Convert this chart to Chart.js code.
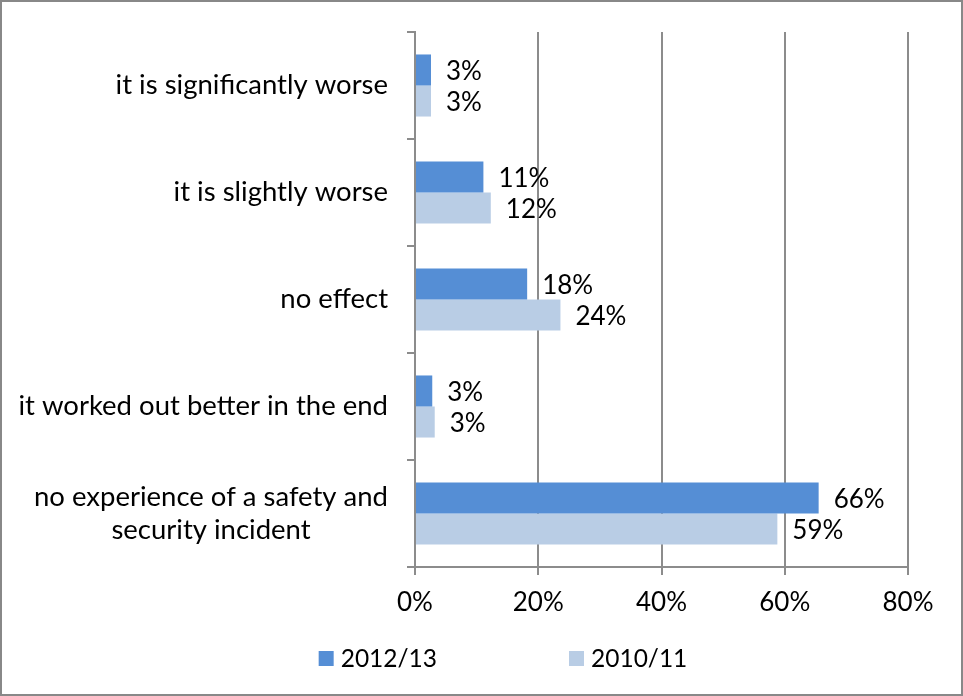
<!DOCTYPE html>
<html>
<head>
<meta charset="utf-8">
<script src="https://cdn.jsdelivr.net/npm/chart.js@4.4.1/dist/chart.umd.min.js"></script>
<style>
  html, body { margin: 0; padding: 0; background: #fff; }
  #wrap { width: 963px; height: 696px; }
</style>
</head>
<body>
<div id="wrap"><canvas id="impact-chart" width="963" height="696"></canvas></div>
<script>
// survey answers, top to bottom
const categories = [
    'it is significantly worse',
    'it is slightly worse',
    'no effect',
    'it worked out better in the end',
    ['no experience of a safety and', 'security incident']
];
const seriesNames = ['2012/13', '2010/11'];
const values2012 = [2.6, 11.1, 18.2, 2.8, 65.5];
const values2010 = [2.6, 12.3, 23.6, 3.2, 58.8];
const xTicks = [0, 20, 40, 60, 80];

const FONT = 'Lato, Carlito, Calibri, sans-serif';
const FONT_SIZE = 26;
const LABEL_SIZE = 27.5;
const LEGEND_SIZE = 24.5;
const AXIS_GREY = '#8c8c8c';

// white background + thin frame round the whole chart
const frame = {
    id: 'frame',
    beforeDraw(chart) {
        const ctx = chart.ctx;
        ctx.save();
        ctx.fillStyle = '#fff';
        ctx.fillRect(0, 0, chart.width, chart.height);
        ctx.strokeStyle = '#888';
        ctx.lineWidth = 2;
        ctx.strokeRect(1, 1, chart.width - 2, chart.height - 2);
        ctx.restore();
    }
};

// category names: block right-aligned, lines centred within the block
const categoryLabels = {
    id: 'categoryLabels',
    afterDraw(chart) {
        const { ctx } = chart;
        const y = chart.scales.y;
        ctx.save();
        ctx.font = `${LABEL_SIZE}px ${FONT}`;
        ctx.fillStyle = '#000';
        ctx.textAlign = 'center';
        ctx.textBaseline = 'middle';
        chart.data.labels.forEach((label, i) => {
            const lines = Array.isArray(label) ? label : [label];
            const widest = Math.max(...lines.map(l => ctx.measureText(l).width));
            const cx = 388 - widest / 2;
            const cy = y.getPixelForValue(i);
            lines.forEach((line, j) => {
                ctx.fillText(line, cx, cy + (j - (lines.length - 1) / 2) * 33);
            });
        });
        ctx.restore();
    }
};

// percentage next to the end of each bar
const valueLabels = {
    id: 'valueLabels',
    afterDatasetsDraw(chart) {
        const { ctx } = chart;
        ctx.save();
        ctx.font = `${FONT_SIZE}px ${FONT}`;
        ctx.fillStyle = '#000';
        ctx.textAlign = 'left';
        ctx.textBaseline = 'middle';
        chart.data.datasets.forEach((ds, di) => {
            chart.getDatasetMeta(di).data.forEach((bar, i) => {
                ctx.fillText(Math.round(ds.data[i]) + '%', bar.x + 15, bar.y + 2);
            });
        });
        ctx.restore();
    }
};

// legend under the axis, items spread apart
const bottomLegend = {
    id: 'bottomLegend',
    afterDraw(chart) {
        const { ctx } = chart;
        const box = 15, gap = 7, spacing = 132;
        ctx.save();
        ctx.font = `${LEGEND_SIZE}px ${FONT}`;
        ctx.textAlign = 'left';
        ctx.textBaseline = 'middle';
        const items = chart.data.datasets.map(ds => ({
            text: ds.label,
            color: ds.backgroundColor,
            w: box + gap + ctx.measureText(ds.label).width
        }));
        const total = items.reduce((s, it) => s + it.w, 0) + spacing * (items.length - 1);
        let x = 503 - total / 2;
        const cy = 658.5;
        items.forEach(it => {
            ctx.fillStyle = it.color;
            ctx.fillRect(x, cy - box / 2, box, box);
            ctx.fillStyle = '#000';
            ctx.fillText(it.text, x + box + gap, cy + 1);
            x += it.w + spacing;
        });
        ctx.restore();
    }
};

const ctx = document.getElementById('impact-chart').getContext('2d');

new Chart(ctx, {
    type: 'bar',
    data: {
        labels: categories,
        datasets: [
            {
                label: seriesNames[0],
                data: values2012,
                backgroundColor: '#558ed5'
            },
            {
                label: seriesNames[1],
                data: values2010,
                backgroundColor: '#b9cde5'
            }
        ]
    },
    options: {
        indexAxis: 'y',
        responsive: false,
        animation: false,
        events: [],
        categoryPercentage: 0.58,
        barPercentage: 1.0,
        layout: {
            padding: { top: 32, right: 55, bottom: 0, left: 0 }
        },
        plugins: {
            legend: { display: false },
            tooltip: { enabled: false }
        },
        scales: {
            x: {
                min: 0,
                max: 80,
                afterBuildTicks(scale) {
                    scale.ticks = xTicks.map(v => ({ value: v }));
                },
                afterFit(scale) {
                    scale.height = 129;
                },
                ticks: {
                    callback: v => v + '%',
                    color: '#000',
                    font: { family: FONT, size: FONT_SIZE },
                    padding: 12,
                    maxRotation: 0
                },
                grid: { color: AXIS_GREY, lineWidth: 2, tickLength: 8 },
                border: { color: AXIS_GREY, width: 2 }
            },
            y: {
                afterFit(scale) {
                    scale.width = 415;
                },
                ticks: { display: false },
                grid: {
                    drawOnChartArea: false,
                    offset: true,
                    color: AXIS_GREY,
                    lineWidth: 2,
                    tickLength: 8
                },
                border: { color: AXIS_GREY, width: 2 }
            }
        }
    },
    plugins: [frame, categoryLabels, valueLabels, bottomLegend]
});
</script>
</body>
</html>
